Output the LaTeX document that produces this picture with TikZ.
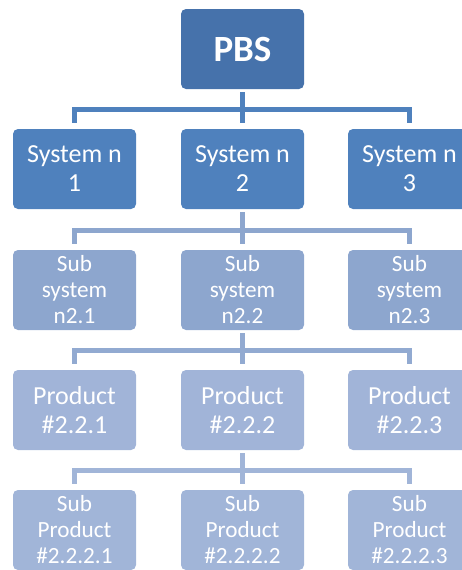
\documentclass[tikz,border=0pt]{standalone}
\usepackage{fontspec}
\setmainfont{Carlito}
\definecolor{pbsc}{HTML}{4672AB}
\definecolor{sysc}{HTML}{4F81BD}
\definecolor{subc}{HTML}{8DA6CE}
\definecolor{prodc}{HTML}{A1B4D8}
\definecolor{sprodc}{HTML}{A1B5D8}
\definecolor{conna}{HTML}{4F81BD}
\definecolor{connb}{HTML}{8DA6CE}
\definecolor{connc}{HTML}{92AAD1}
\definecolor{connd}{HTML}{A1B5D8}
\begin{document}
\begin{tikzpicture}[x=1pt,y=-1pt,
  box/.style={rectangle, rounded corners=5pt, minimum width=123pt, minimum height=80pt,
    inner sep=0pt, text=white, align=center},
  big/.style={font=\fontsize{26}{29}\selectfont},
  small/.style={font=\fontsize{23.2}{26}\selectfont},
  conn/.style={line width=5pt, line join=miter}]
\useasboundingbox (0,0) rectangle (462,570);
\clip (0,0) rectangle (462,570);
% level 0
\node[box, fill=pbsc, font=\fontsize{37}{40}\selectfont\bfseries] (pbs) at (242.5,49) {PBS};
% level 1
\node[box, big, fill=sysc] (s1) at (74.5,169) {System n\\1};
\node[box, big, fill=sysc] (s2) at (242.5,169) {System n\\2};
\node[box, big, fill=sysc] (s3) at (409.5,169) {System n\\3};
% level 2
\node[box, small, fill=subc] (u1) at (74.5,290) {Sub\\system\\n2.1};
\node[box, small, fill=subc] (u2) at (242.5,290) {Sub\\system\\n2.2};
\node[box, small, fill=subc] (u3) at (409.5,290) {Sub\\system\\n2.3};
% level 3
\node[box, big, fill=prodc] (p1) at (74.5,410) {Product\\\#2.2.1};
\node[box, big, fill=prodc] (p2) at (242.5,410) {Product\\\#2.2.2};
\node[box, big, fill=prodc] (p3) at (409.5,410) {Product\\\#2.2.3};
% level 4
\node[box, small, fill=sprodc] (q1) at (74.5,530) {Sub\\Product\\\#2.2.2.1};
\node[box, small, fill=sprodc] (q2) at (242.5,530) {Sub\\Product\\\#2.2.2.2};
\node[box, small, fill=sprodc] (q3) at (409.5,530) {Sub\\Product\\\#2.2.2.3};
% bar coordinates
\coordinate (b1) at (242.5,109);
\coordinate (b2) at (242.5,230);
\coordinate (b3) at (242.5,350);
\coordinate (b4) at (242.5,470);
% connectors level 1
\draw[conn, conna] ([yshift=6pt]s1.north) |- (b1) -| ([yshift=6pt]s3.north);
\draw[conn, conna] ([yshift=-3pt]pbs.south) -- ([yshift=6pt]s2.north);
% connectors level 2
\draw[conn, connb] ([yshift=6pt]u1.north) |- (b2) -| ([yshift=6pt]u3.north);
\draw[conn, connb] ([yshift=-3pt]s2.south) -- ([yshift=6pt]u2.north);
% connectors level 3
\draw[conn, connc] ([yshift=6pt]p1.north) |- (b3) -| ([yshift=6pt]p3.north);
\draw[conn, connc] ([yshift=-3pt]u2.south) -- ([yshift=6pt]p2.north);
% connectors level 4
\draw[conn, connd] ([yshift=6pt]q1.north) |- (b4) -| ([yshift=6pt]q3.north);
\draw[conn, connd] ([yshift=-3pt]p2.south) -- ([yshift=6pt]q2.north);
\end{tikzpicture}
\end{document}
